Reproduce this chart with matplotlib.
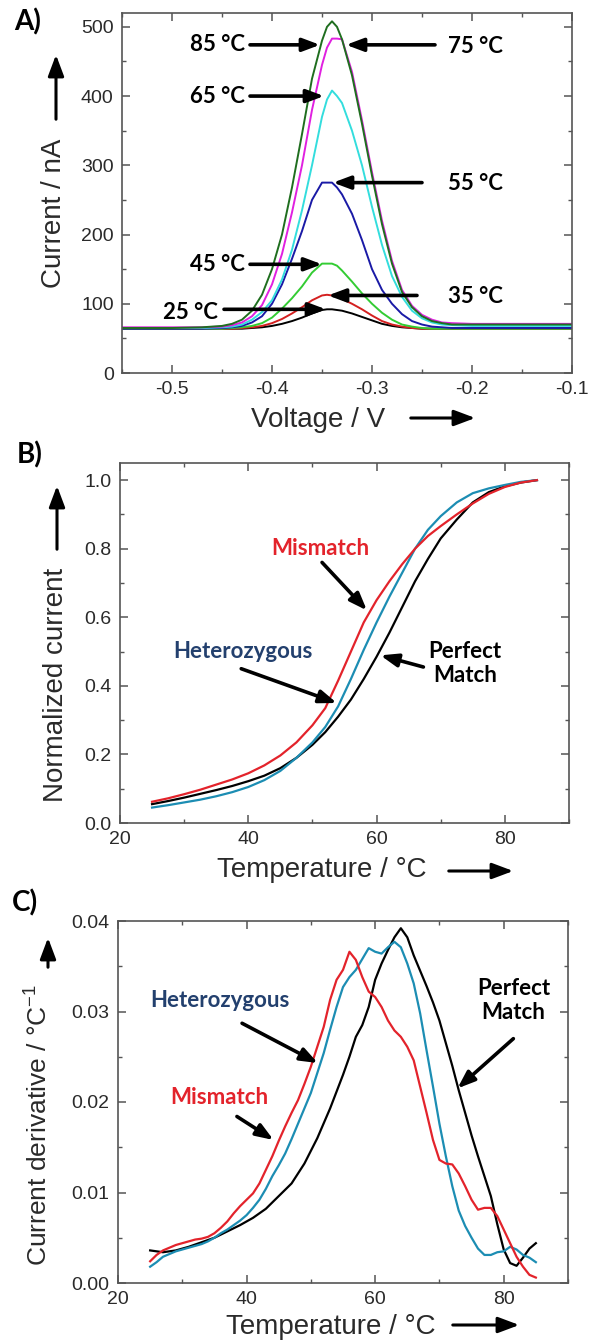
import numpy as np
import matplotlib
matplotlib.use('Agg')
import matplotlib.pyplot as plt
from matplotlib.patches import FancyArrowPatch
from matplotlib.ticker import MultipleLocator, FormatStrFormatter

plt.rcParams['font.family'] = ['Liberation Sans', 'DejaVu Sans']
plt.rcParams['axes.unicode_minus'] = False

## panel A: square wave voltammograms at each temperature
voltage = [-0.55, -0.50, -0.47, -0.45, -0.44, -0.43, -0.42, -0.41, -0.40, -0.39, -0.38,
           -0.37, -0.36, -0.35, -0.345, -0.34, -0.335, -0.33, -0.32, -0.31, -0.30, -0.29,
           -0.28, -0.27, -0.26, -0.25, -0.24, -0.23, -0.22, -0.20, -0.15, -0.10]
cur_25 = [64, 64, 64, 64, 64, 64, 65, 66, 68, 71, 75, 80, 86, 91, 92, 92, 91, 90, 86, 81,
          76, 71, 68, 66, 65, 64, 64, 64, 64, 64, 64, 64]
cur_35 = [64, 64, 64, 64, 64, 65, 66, 68, 72, 78, 86, 95, 105, 112, 113, 112, 110, 107, 100, 92,
          83, 75, 70, 67, 65, 64, 64, 64, 64, 64, 64, 64]
cur_45 = [64, 64, 64, 64, 65, 66, 68, 72, 80, 93, 108, 125, 145, 158, 158, 158, 155, 148, 132, 115,
          100, 87, 77, 70, 67, 65, 64, 64, 64, 64, 64, 64]
cur_55 = [64, 64, 64, 65, 66, 68, 73, 82, 100, 128, 165, 205, 250, 275, 275, 275, 268, 258, 230, 192,
          150, 120, 100, 85, 75, 70, 67, 66, 65, 65, 65, 65]
cur_65 = [65, 65, 65, 66, 67, 70, 77, 88, 105, 135, 178, 235, 300, 370, 395, 408, 400, 390, 350, 300,
          240, 185, 140, 110, 90, 79, 73, 70, 69, 68, 68, 68]
cur_75 = [66, 66, 66, 67, 69, 73, 82, 98, 128, 172, 232, 300, 380, 445, 470, 483, 483, 482, 435, 365,
          290, 220, 162, 120, 97, 84, 77, 73, 72, 71, 71, 71]
cur_85 = [65, 65, 66, 68, 71, 77, 90, 113, 150, 200, 268, 345, 425, 480, 500, 508, 500, 482, 430, 360,
          285, 215, 158, 117, 95, 82, 75, 72, 70, 70, 70, 70]

## panel B: normalized melting curves
temp_b = [25, 27.5, 30, 32.5, 35, 37.5, 40, 42.5, 45, 47.5, 50, 52, 54, 56, 58, 60, 62, 64, 66, 68,
          70, 72.5, 75, 77.5, 80, 82.5, 85]
norm_mis = [.062, .072, .084, .097, .112, .127, .145, .168, .197, .235, .285, .335, .415, .50, .585,
            .65, .705, .755, .80, .837, .866, .90, .932, .96, .98, .993, 1.0]
norm_het = [.045, .052, .06, .068, .078, .09, .105, .125, .152, .19, .235, .28, .34, .42, .505,
            .585, .66, .73, .80, .855, .895, .935, .962, .976, .986, .995, 1.0]
norm_pm = [.055, .064, .074, .085, .096, .108, .122, .138, .16, .19, .228, .265, .31, .36, .42,
           .485, .555, .63, .705, .77, .83, .885, .935, .965, .982, .993, 1.0]

## panel C: derivative curves
temp_c = list(range(25, 86))
der_mis = [.0024, .0031, .0036, .0039, .0042, .0044, .0046, .0048, .0049, .0051, .0055, .0061, .0068,
           .0077, .0085, .0092, .0099, .0110, .0125, .0140, .0157, .0173, .0188, .0202, .0220, .0239,
           .0261, .0283, .0313, .0335, .0346, .0366, .0357, .0338, .0322, .0316, .0305, .0290, .0279,
           .0272, .0261, .0246, .0217, .0188, .0158, .0136, .0132, .0131, .0121, .0107, .0092, .0081,
           .0083, .0083, .0074, .0059, .0044, .0029, .0018, .0009, .0006]
der_het = [.0018, .0023, .0029, .0032, .0035, .0037, .0039, .0041, .0043, .0046, .0050, .0055, .0059,
           .0064, .0069, .0075, .0083, .0092, .0104, .0118, .0130, .0143, .0159, .0176, .0193, .0210,
           .0232, .0254, .0280, .0305, .0327, .0338, .0346, .0358, .0370, .0366, .0364, .0371, .0377,
           .0371, .0353, .0331, .0298, .0257, .0217, .0176, .0140, .0107, .0080, .0063, .0050, .0038,
           .0031, .0031, .0034, .0035, .0040, .0037, .0031, .0028, .0023]
temp_c_pm = [25, 27, 29, 31, 33, 35, 37, 39, 41, 43, 45, 47, 49, 51, 53, 55, 56, 57, 58, 59, 60, 61,
             62, 63, 64, 65, 66, 67, 68, 69, 70, 71, 72, 73, 74, 75, 76, 77, 78, 79, 80, 81, 82, 83,
             84, 85]
der_pm = [.0036, .0034, .0036, .0040, .0045, .0050, .0057, .0064, .0072, .0082, .0096, .0110, .0132,
          .0160, .0193, .0230, .0250, .0272, .0285, .0305, .0335, .0353, .0368, .0382, .0392, .0382,
          .0362, .0345, .0328, .0310, .0290, .0265, .0240, .0213, .0188, .0163, .0140, .0118, .0096,
          .0065, .0037, .0022, .0019, .0028, .0038, .0044]

W, H = 590, 1341
fig = plt.figure(figsize=(W / 100, H / 100), dpi=100)

ANN_FONT = ['Lato', 'DejaVu Sans']
RED = '#e3232b'
TEAL = '#1c8db3'
NAVY = '#23406e'
TXT = '#2a2a2a'


def px(x, y):
    return x / W, 1 - y / H


def make_axes(left, right, top, bottom):
    ax = fig.add_axes([left / W, 1 - bottom / H, (right - left) / W, (bottom - top) / H])
    for s in ax.spines.values():
        s.set_color('#555555')
        s.set_linewidth(1.2)
    ax.tick_params(which='both', direction='in', top=True, right=True, colors='#555555',
                   labelcolor=TXT, labelsize=14)
    ax.tick_params(which='major', length=6, width=1.1, pad=6)
    ax.tick_params(which='minor', length=3, width=1.0)
    return ax


def fig_arrow(p0, p1, lw=2.2, scale=16):
    a = FancyArrowPatch(px(*p0), px(*p1), transform=fig.transFigure,
                        arrowstyle='-|>,head_length=0.8,head_width=0.3',
                        mutation_scale=scale, lw=lw, color='black')
    fig.add_artist(a)


def data_arrow(ax, tail, tip):
    ax.annotate('', xy=tip, xytext=tail,
                arrowprops=dict(arrowstyle='-|>,head_length=0.8,head_width=0.3',
                                mutation_scale=13, lw=2.6, color='black', shrinkA=0, shrinkB=0))


def ann_text(ax, x, y, s, color='black', ha='center'):
    ax.text(x, y, s, fontsize=16, fontweight='bold', family=ANN_FONT, color=color,
            ha=ha, va='center', linespacing=1.2)


## ---------- A ----------
axA = make_axes(122, 572, 13, 373)
curves = [(cur_25, 'black'), (cur_35, '#d42020'), (cur_45, '#33cc33'), (cur_55, '#1a1aa6'),
          (cur_65, '#33dddd'), (cur_75, '#e020e0'), (cur_85, '#1f6e1f')]
for c, col in curves:
    axA.plot(voltage, c, color=col, lw=1.4)
axA.set_xlim(-0.55, -0.10)
axA.set_ylim(0, 520)
axA.xaxis.set_major_locator(MultipleLocator(0.1))
axA.xaxis.set_minor_locator(MultipleLocator(0.05))
axA.yaxis.set_major_locator(MultipleLocator(100))
axA.yaxis.set_minor_locator(MultipleLocator(50))
axA.xaxis.set_major_formatter(FormatStrFormatter('%.1f'))

left_labels = [('85 °C', 474, -0.422, -0.352), ('65 °C', 400, -0.422, -0.348),
               ('45 °C', 157, -0.422, -0.350)]
for s, y, x0, x1 in left_labels:
    data_arrow(axA, (x0, y), (x1, y))
    ann_text(axA, x0 - 0.005, y, s, ha='right')
right_labels = [('75 °C', 474, -0.237, -0.326), ('55 °C', 275, -0.250, -0.339),
                ('35 °C', 112, -0.255, -0.344)]
for s, y, x0, x1 in right_labels:
    data_arrow(axA, (x0, y), (x1, y))
    ann_text(axA, -0.224, y - 2, s, ha='left')
data_arrow(axA, (-0.448, 92), (-0.346, 92))
ann_text(axA, -0.454, 88, '25 °C', ha='right')

fig.text(*px(54, 213), 'Current / nA', rotation=90, fontsize=20, color=TXT, ha='center', va='center')
fig_arrow((56, 122), (56, 52))
fig.text(*px(318, 420), 'Voltage / V', fontsize=20, color=TXT, ha='center', va='center')
fig_arrow((408, 418), (478, 418))
fig.text(*px(28, 22), 'A)', fontsize=20, fontweight='bold', family=ANN_FONT, ha='center', va='center')

## ---------- B ----------
axB = make_axes(120, 569, 463, 823)
axB.plot(temp_b, norm_pm, color='black', lw=1.6)
axB.plot(temp_b, norm_het, color=TEAL, lw=1.6)
axB.plot(temp_b, norm_mis, color=RED, lw=1.6)
axB.set_xlim(20, 90)
axB.set_ylim(0, 1.05)
axB.xaxis.set_major_locator(MultipleLocator(20))
axB.xaxis.set_minor_locator(MultipleLocator(10))
axB.yaxis.set_major_locator(MultipleLocator(0.2))
axB.yaxis.set_minor_locator(MultipleLocator(0.1))
axB.yaxis.set_major_formatter(FormatStrFormatter('%.1f'))

ann_text(axB, 51.2, 0.80, 'Mismatch', color=RED)
data_arrow(axB, (51.5, 0.76), (58.5, 0.62))
ann_text(axB, 39.2, 0.50, 'Heterozygous', color=NAVY)
data_arrow(axB, (38.9, 0.45), (53.8, 0.35))
ann_text(axB, 73.8, 0.465, 'Perfect\nMatch')
data_arrow(axB, (67.3, 0.455), (60.6, 0.489))

fig.text(*px(56, 685), 'Normalized current', rotation=90, fontsize=20, color=TXT, ha='center', va='center')
fig_arrow((57, 552), (57, 483))
fig.text(*px(322, 870), 'Temperature / °C', fontsize=20, color=TXT, ha='center', va='center')
fig_arrow((446, 871), (516, 871))
fig.text(*px(30, 455), 'B)', fontsize=20, fontweight='bold', family=ANN_FONT, ha='center', va='center')

## ---------- C ----------
axC = make_axes(118, 568, 921, 1283)
axC.plot(temp_c_pm, der_pm, color='black', lw=1.6)
axC.plot(temp_c, der_het, color=TEAL, lw=1.6)
axC.plot(temp_c, der_mis, color=RED, lw=1.6)
axC.set_xlim(20, 90)
axC.set_ylim(0, 0.04)
axC.xaxis.set_major_locator(MultipleLocator(20))
axC.xaxis.set_minor_locator(MultipleLocator(10))
axC.yaxis.set_major_locator(MultipleLocator(0.01))
axC.yaxis.set_minor_locator(MultipleLocator(0.005))
axC.yaxis.set_major_formatter(FormatStrFormatter('%.2f'))

ann_text(axC, 35.8, 0.0312, 'Heterozygous', color=NAVY)
data_arrow(axC, (39.3, 0.0287), (51.1, 0.0243))
ann_text(axC, 35.8, 0.0205, 'Mismatch', color=RED)
data_arrow(axC, (38.5, 0.0184), (44.2, 0.0158))
ann_text(axC, 81.5, 0.0312, 'Perfect\nMatch')
data_arrow(axC, (81.5, 0.0270), (72.8, 0.0215))

fig.text(*px(38, 1125), 'Current derivative / °C$^{\\mathregular{-1}}$', rotation=90, fontsize=19,
         color=TXT, ha='center', va='center')
fig_arrow((48, 970), (48, 935))
fig.text(*px(331, 1327), 'Temperature / °C', fontsize=20, color=TXT, ha='center', va='center')
fig_arrow((450, 1325), (522, 1325))
fig.text(*px(25, 903), 'C)', fontsize=20, fontweight='bold', family=ANN_FONT, ha='center', va='center')

fig.savefig('out.png', dpi=100)
